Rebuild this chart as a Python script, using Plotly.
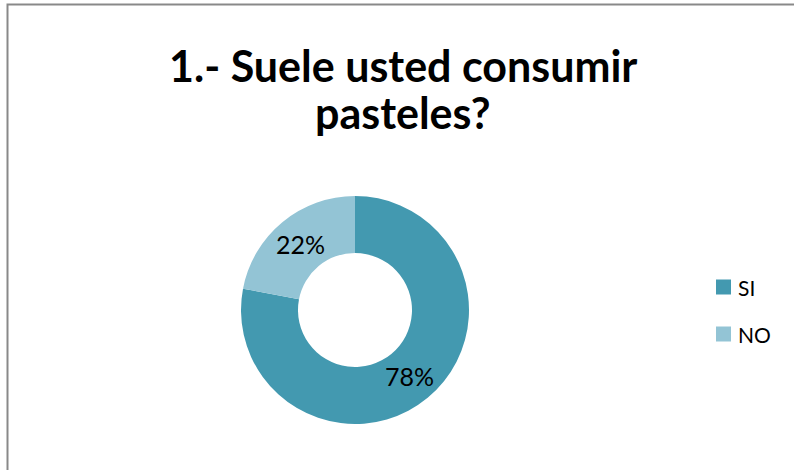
import math
import plotly.graph_objects as go

labels = ["SI", "NO"]
values = [78, 22]
colors = ["#4399B0", "#93C4D5"]
title_lines = ["1.- Suele usted consumir", "pasteles?"]

W, H = 794, 470
# donut geometry (pixels)
cx, cy, r_out, hole = 355, 310, 114, 0.5

fig = go.Figure()
fig.add_trace(go.Pie(
    labels=labels,
    values=values,
    marker=dict(colors=colors, line=dict(width=0)),
    hole=hole,
    sort=False,
    direction="clockwise",
    rotation=0,
    textinfo="none",
    domain=dict(x=[(cx - r_out) / W, (cx + r_out) / W],
                y=[1 - (cy + r_out) / H, 1 - (cy - r_out) / H]),
    showlegend=False,
))

shapes = [
    dict(type="rect", xref="paper", yref="paper",
         x0=7.5 / W, x1=1.05, y0=-0.05, y1=1 - 4.5 / H,
         line=dict(color="#898989", width=2), fillcolor="rgba(0,0,0,0)", layer="below"),
]
annotations = []
for line, yc in zip(title_lines, [65, 112]):
    annotations.append(dict(text="<b>" + line + "</b>", xref="paper", yref="paper",
                            x=403 / W, y=1 - yc / H, xanchor="center", yanchor="middle",
                            showarrow=False,
                            font=dict(family="Lato", size=43, color="#000000")))

# percentage labels at the middle of each ring segment (clockwise from 12 o'clock)
total = sum(values)
r_mid = r_out * (1 + hole) / 2
cum = 0
for v in values:
    ang = 2 * math.pi * (cum + v / 2) / total
    cum += v
    px = cx + r_mid * math.sin(ang)
    py = cy - r_mid * math.cos(ang)
    annotations.append(dict(text=f"{round(100 * v / total)}%", xref="paper", yref="paper",
                            x=px / W, y=1 - py / H, xanchor="center", yanchor="middle",
                            showarrow=False,
                            font=dict(family="Lato", size=25, color="#000000")))

# manual legend
leg_y = [287, 334]
for lab, col, yy in zip(labels, colors, leg_y):
    shapes.append(dict(type="rect", xref="paper", yref="paper",
                       x0=716 / W, x1=731 / W, y0=1 - (yy + 7.5) / H, y1=1 - (yy - 7.5) / H,
                       line=dict(width=0), fillcolor=col))
    annotations.append(dict(text=lab, xref="paper", yref="paper", x=736 / W, y=1 - yy / H,
                            xanchor="left", yanchor="middle", showarrow=False,
                            font=dict(family="Lato", size=21, color="#000000")))

fig.update_layout(
    width=W, height=H,
    margin=dict(l=0, r=0, t=0, b=0),
    paper_bgcolor="white", plot_bgcolor="white",
    shapes=shapes, annotations=annotations,
)
fig.write_html("out.html")
